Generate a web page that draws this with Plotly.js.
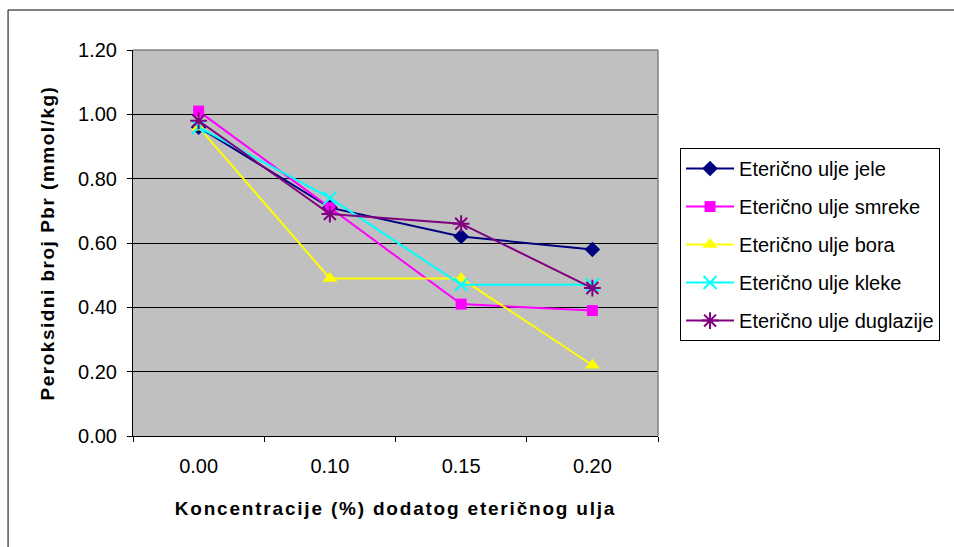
<!DOCTYPE html>
<html>
<head>
<meta charset="utf-8">
<script src="https://cdn.plot.ly/plotly-3.0.1.min.js"></script>
<style>
html,body{margin:0;padding:0;background:#fff;}
#chart{width:954px;height:547px;}
.xtitle{letter-spacing:1.8px;}
.ytitle{letter-spacing:1.5px;}
</style>
</head>
<body>
<div id="chart"></div>
<script>
const categories = ["0.00", "0.10", "0.15", "0.20"];
const seriesNames = ["Eterično ulje jele", "Eterično ulje smreke", "Eterično ulje bora", "Eterično ulje kleke", "Eterično ulje duglazije"];
const jele = [0.96, 0.71, 0.62, 0.58];
const smreke = [1.01, 0.71, 0.41, 0.39];
const bora = [0.96, 0.49, 0.49, 0.22];
const kleke = [0.96, 0.74, 0.47, 0.47];
const duglazije = [0.98, 0.69, 0.66, 0.46];
const yTicks = [0, 0.2, 0.4, 0.6, 0.8, 1.0, 1.2];

const values = [jele, smreke, bora, kleke, duglazije];
const colors = ["#000080", "#FF00FF", "#FFFF00", "#00FFFF", "#800080"];
const symbols = ["diamond", "square", "triangle-up", "x-thin-open", "asterisk-open"];
const sizes = [12, 11, 13, 13, 14];

const traces = values.map((v, i) => ({
  x: categories,
  y: v,
  name: seriesNames[i],
  type: "scatter",
  mode: "lines+markers",
  legendgroup: "g" + i,
  line: {color: colors[i], width: 2},
  marker: {
    symbol: symbols[i],
    size: sizes[i],
    color: colors[i],
    line: {color: colors[i], width: (i >= 3 ? 2 : 0)}
  },
  hoverinfo: "none"
}));

const fam = "Liberation Sans, Arial, sans-serif";

const layout = {
  width: 954,
  height: 547,
  paper_bgcolor: "#FFFFFF",
  plot_bgcolor: "#C0C0C0",
  margin: {l: 133, r: 296, t: 50, b: 111},
  font: {family: fam, size: 20, color: "#000"},
  showlegend: true,
  legend: {
    x: 1.042, y: 0.746, xanchor: "left", yanchor: "top",
    bordercolor: "#000", borderwidth: 1,
    bgcolor: "#FFFFFF",
    font: {family: fam, size: 20, color: "#000"},
    traceorder: "grouped",
    tracegroupgap: 9,
    itemwidth: 48
  },
  xaxis: {
    type: "category",
    range: [-0.5, 3.5],
    tickson: "boundaries",
    ticks: "outside",
    ticklen: 5,
    tickcolor: "#000",
    showline: true,
    linecolor: "#000",
    linewidth: 1,
    showgrid: false,
    zeroline: false,
    ticklabelstandoff: 12,
    tickfont: {family: fam, size: 20, color: "#000"},
    title: {text: "Koncentracije (%) dodatog eteričnog ulja", font: {family: fam, size: 19, color: "#000", weight: "bold"}, standoff: 25},
    automargin: false,
    fixedrange: true
  },
  yaxis: {
    range: [0, 1.2],
    tickvals: yTicks,
    tickformat: ".2f",
    ticks: "outside",
    ticklen: 5,
    tickcolor: "#000",
    showline: true,
    linecolor: "#000",
    linewidth: 1,
    showgrid: true,
    gridcolor: "#000",
    gridwidth: 1,
    zeroline: false,
    ticklabelstandoff: 6,
    tickfont: {family: fam, size: 20, color: "#000"},
    title: {text: "Peroksidni broj Pbr (mmol/kg)", font: {family: fam, size: 19, color: "#000", weight: "bold"}, standoff: 18},
    automargin: false,
    fixedrange: true
  },
  shapes: [
    {type: "line", xref: "paper", yref: "paper", x0: 0, x1: 1, y0: 1, y1: 1, line: {color: "#808080", width: 1.5}},
    {type: "line", xref: "paper", yref: "paper", x0: 1, x1: 1, y0: 0, y1: 1, line: {color: "#808080", width: 1.5}},
    {type: "rect", xref: "paper", yref: "paper", x0: -0.238, x1: 1.6, y0: -0.35, y1: 1.1036, line: {color: "#000", width: 1}, fillcolor: "rgba(0,0,0,0)"}
  ]
};

Plotly.newPlot("chart", traces, layout, {displayModeBar: false, staticPlot: true});
</script>
</body>
</html>
